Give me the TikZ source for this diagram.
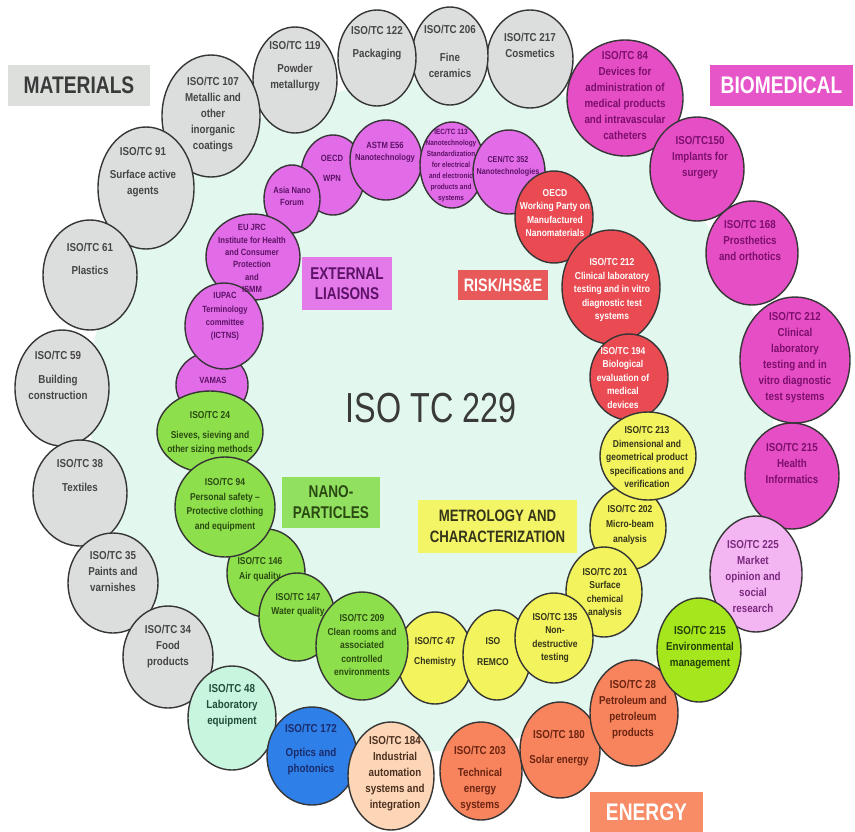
\documentclass[tikz,border=0pt]{standalone}
\usepackage{fontspec}
\usetikzlibrary{shapes.geometric}
\newfontfamily\nar[FakeStretch=0.85]{Liberation Sans}
\newfontfamily\tit[FakeStretch=0.77]{Liberation Sans}
\newfontfamily\boxf[FakeStretch=0.8]{Liberation Sans}
\definecolor{bgmint}{HTML}{E2F8EE}
\definecolor{olc}{HTML}{363636}
\definecolor{cgray}{HTML}{DCDEDD}
\definecolor{tgray}{HTML}{454545}
\definecolor{cmag}{HTML}{E64EC6}
\definecolor{tmag}{HTML}{7B0F6B}
\definecolor{cpink}{HTML}{E26CE8}
\definecolor{tpink}{HTML}{5C1266}
\definecolor{cpale}{HTML}{F4B6F2}
\definecolor{tpale}{HTML}{7A2A7E}
\definecolor{cred}{HTML}{EA4A52}
\definecolor{cyel}{HTML}{F3F35E}
\definecolor{tyel}{HTML}{34341A}
\definecolor{cgrn}{HTML}{8EDF4C}
\definecolor{tgrn}{HTML}{2A4A12}
\definecolor{clime}{HTML}{A6E61C}
\definecolor{tlime}{HTML}{24400A}
\definecolor{corg}{HTML}{F7845C}
\definecolor{torg}{HTML}{6B2412}
\definecolor{cmint}{HTML}{C8F5DD}
\definecolor{tmint}{HTML}{1F4D3A}
\definecolor{cblue}{HTML}{2F7FE8}
\definecolor{tblue}{HTML}{1A2C6A}
\definecolor{cpeach}{HTML}{FCD6B6}
\definecolor{tpeach}{HTML}{4C3020}
\definecolor{ctitle}{HTML}{3A3A3A}
\definecolor{bmat}{HTML}{DCDFDC}
\definecolor{bbio}{HTML}{E656C8}
\definecolor{bext}{HTML}{E47AEA}
\definecolor{brisk}{HTML}{E85A5A}
\definecolor{bnano}{HTML}{92E060}
\definecolor{bmet}{HTML}{F4F467}
\definecolor{bene}{HTML}{F78C66}
\newcommand\mkb[6]{\node[#1, minimum width=#5pt, minimum height=#6pt] (#2) at (#3,#4) {};}
\newcommand\mkt[5]{\node[#1] (#2) at (#3,#4) {#5};}
\begin{document}
\begin{tikzpicture}[x=1pt,y=-1pt,
  bub/.style={ellipse, draw=olc, line width=1.4pt, inner sep=0pt, outer sep=0pt},
  gry/.style={bub, fill=cgray},
  mag/.style={bub, fill=cmag},
  pnk/.style={bub, fill=cpink},
  pal/.style={bub, fill=cpale},
  red/.style={bub, fill=cred},
  yel/.style={bub, fill=cyel},
  grn/.style={bub, fill=cgrn},
  lim/.style={bub, fill=clime},
  org/.style={bub, fill=corg},
  mnt/.style={bub, fill=cmint},
  blu/.style={bub, fill=cblue},
  pch/.style={bub, fill=cpeach},
  otx/.style={align=center, inner sep=0pt, font=\nar\bfseries\fontsize{11.5}{16}\selectfont},
  itx/.style={align=center, inner sep=0pt, font=\nar\bfseries\fontsize{10}{13.5}\selectfont},
  ptx/.style={align=center, inner sep=0pt, text=tpink, font=\nar\bfseries\fontsize{9}{12.3}\selectfont},
  lbox/.style={inner sep=0pt, align=center, font=\boxf\bfseries},
]
\useasboundingbox (0,0) rectangle (855,831);
\fill[white] (0,0) rectangle (855,831);
% background
\fill[bgmint] plot[smooth cycle, tension=0.7] coordinates {
 (114,280) (166,204) (226,137) (304,103) (381,83) (449,81) (523,84) (611,120)
 (678,186) (729,264) (769,364) (767,472) (733,563) (680,634) (620,692) (551,727)
 (477,746) (394,751) (320,732) (246,697) (186,640) (135,571) (104,488) (88,390)};
% outer ring
\mkb{gry}{b217}{530}{59}{86}{98}
\mkb{gry}{b206}{450}{56}{76}{98}
\mkb{gry}{b122}{377}{58}{78}{96}
\mkb{gry}{b119}{295}{80}{84}{106}
\mkb{gry}{b107}{211}{116}{98}{122}
\mkb{gry}{b91}{146}{188}{96}{122}
\mkb{gry}{b61}{90}{275}{94}{110}
\mkb{gry}{b59}{62}{388}{94}{116}
\mkb{gry}{b38}{80}{493}{94}{106}
\mkb{gry}{b35}{113}{583}{90}{100}
\mkb{gry}{b34}{168}{657}{90}{102}
\mkb{mnt}{b48}{232}{718}{88}{104}
\mkb{blu}{b172}{312}{756}{90}{98}
\mkb{pch}{b184}{391}{776}{86}{108}
\mkb{org}{b203}{481}{771}{82}{98}
\mkb{org}{b180}{560}{750}{80}{96}
\mkb{org}{b28}{634}{713}{88}{106}
\mkb{mag}{b84}{625}{98}{116}{116}
\mkb{mag}{b150}{697}{169}{94}{104}
\mkb{mag}{b168}{752}{253}{92}{104}
\mkb{mag}{b212m}{795}{360}{110}{126}
\mkb{mag}{b215h}{792}{476}{94}{106}
\mkb{pal}{b225}{756}{574}{92}{116}
\mkb{lim}{b215e}{699}{650}{84}{104}
% inner ring
\mkb{pnk}{bWPN}{333}{175}{64}{80}
\mkb{pnk}{bASTM}{386}{160}{72}{80}
\mkb{pnk}{bIEC}{452}{165}{64}{86}
\mkb{pnk}{bCEN}{509}{172}{72}{84}
\mkb{red}{bOWP}{554}{217}{78}{92}
\mkb{red}{b212r}{611}{287}{98}{114}
\mkb{red}{b194}{629}{377}{78}{86}
\mkb{yel}{b202}{628}{528}{76}{84}
\mkb{yel}{b213}{648}{456}{96}{88}
\mkb{yel}{b201}{604}{592}{76}{90}
\mkb{yel}{b47}{435}{658}{76}{92}
\mkb{yel}{bREMCO}{497}{655}{68}{90}
\mkb{yel}{b135}{554}{638}{78}{90}
\mkb{grn}{b146}{266}{573}{78}{88}
\mkb{grn}{b147}{297}{617}{76}{88}
\mkb{grn}{b209}{362}{646}{92}{108}
\mkb{pnk}{bVAMAS}{212}{385}{72}{66}
\mkb{grn}{b24}{210}{432}{106}{82}
\mkb{grn}{b94}{225}{507}{100}{100}
\mkb{pnk}{bAsia}{292}{199}{56}{68}
\mkb{pnk}{bJRC}{253}{257}{94}{86}
\mkb{pnk}{bIUPAC}{224}{326}{78}{86}
% category boxes
\node[lbox, fill=bmat, text=ctitle, minimum width=142pt, minimum height=41pt, font=\boxf\bfseries\fontsize{24}{28}\selectfont] (materials) at (79,85.5) {MATERIALS};
\node[lbox, fill=bbio, text=white, minimum width=143pt, minimum height=41pt, font=\boxf\bfseries\fontsize{24}{28}\selectfont] (biomed) at (781.5,85.5) {BIOMEDICAL};
\node[lbox, fill=bext, text=tpink, minimum width=90pt, minimum height=53pt, font=\boxf\bfseries\fontsize{17}{20}\selectfont] (extern) at (347,283.5) {EXTERNAL\\LIAISONS};
\node[lbox, fill=brisk, text=white, minimum width=90pt, minimum height=30pt, font=\boxf\bfseries\fontsize{18}{20}\selectfont] (risk) at (503,285) {RISK/HS\&E};
\node[lbox, fill=bnano, text=tgrn, minimum width=98pt, minimum height=51pt, font=\boxf\bfseries\fontsize{17}{21}\selectfont] (nano) at (331,502.5) {NANO-\\PARTICLES};
\node[lbox, fill=bmet, text=tyel, minimum width=159pt, minimum height=53pt, font=\boxf\bfseries\fontsize{16.5}{21}\selectfont] (metro) at (497.5,526.5) {METROLOGY AND\\CHARACTERIZATION};
\node[lbox, fill=bene, text=white, minimum width=113pt, minimum height=40pt, font=\boxf\bfseries\fontsize{24}{28}\selectfont] (energy) at (646.5,812) {ENERGY};
\node[inner sep=0pt, text=ctitle, font=\tit\fontsize{42}{48}\selectfont] (title) at (431,408) {ISO TC 229};
% outer texts
\mkt{otx,text=tgray}{t61}{90}{258.5}{ISO/TC 61\\[7pt]Plastics}
\mkt{otx,text=tgray}{t91}{143}{172}{ISO/TC 91\\[7pt]Surface active\\agents}
\mkt{otx,text=tgray}{t107}{213}{115}{ISO/TC 107\\Metallic and\\other\\inorganic\\coatings}
\mkt{otx,text=tgray}{t119}{295}{66.5}{ISO/TC 119\\[7pt]Powder\\metallurgy}
\mkt{otx,text=tgray}{t122}{377}{43.5}{ISO/TC 122\\[7pt]Packaging}
\mkt{otx,text=tgray}{t206}{450}{51.5}{ISO/TC 206\\[12pt]Fine\\ceramics}
\mkt{otx,text=tgray}{t217}{530}{45}{ISO/TC 217\\Cosmetics}
\mkt{otx,text=tgray}{t59}{58}{375.5}{ISO/TC 59\\[8pt]Building\\construction}
\mkt{otx,text=tgray}{t38}{80}{475}{ISO/TC 38\\[8pt]Textiles}
\mkt{otx,text=tgray}{t35}{113}{571}{ISO/TC 35\\Paints and\\varnishes}
\mkt{otx,text=tgray}{t34}{168}{646.5}{ISO/TC 34\\Food\\products}
\mkt{otx,text=tmint}{t48}{232}{706}{ISO/TC 48\\Laboratory\\equipment}
\mkt{otx,text=tblue}{t172}{311}{749.5}{ISO/TC 172\\[8pt]Optics and\\photonics}
\mkt{otx,text=tpeach}{t184}{395}{774}{ISO/TC 184\\Industrial\\automation\\systems and\\integration}
\mkt{otx,text=torg}{t203}{480}{778.5}{ISO/TC 203\\[6pt]Technical\\energy\\systems}
\mkt{otx,text=torg}{t180}{559}{748.5}{ISO/TC 180\\[9pt]Solar energy}
\mkt{otx,text=torg}{t28}{633}{709.5}{ISO/TC 28\\Petroleum and\\petroleum\\products}
\mkt{otx,text=tlime}{t215e}{700}{648}{ISO/TC 215\\Environmental\\management}
\mkt{otx,text=tpale}{t225}{753}{576}{ISO/TC 225\\Market\\opinion and\\social\\research}
\mkt{otx,text=tmag}{t215h}{792}{463}{ISO/TC 215\\Health\\Informatics}
\mkt{otx,text=tmag}{t212m}{795}{357.5}{ISO/TC 212\\Clinical\\laboratory\\testing and in\\vitro diagnostic\\test systems}
\mkt{otx,text=tmag}{t168}{750}{240}{ISO/TC 168\\Prosthetics\\and orthotics}
\mkt{otx,text=tmag}{t150}{700}{157.5}{ISO/TC150\\Implants for\\surgery}
\mkt{otx,text=tmag}{t84}{625}{95}{ISO/TC 84\\Devices for\\administration of\\medical products\\and intravascular\\catheters}
% inner texts
\mkt{itx,text=white}{tOWP}{555}{213}{OECD\\Working Party on\\Manufactured\\Nanomaterials}
\mkt{itx,text=white}{t212r}{612}{290}{ISO/TC 212\\Clinical laboratory\\testing and in vitro\\diagnostic test\\systems}
\mkt{itx,text=white}{t194}{623}{377.5}{ISO/TC 194\\Biological\\evaluation of\\medical\\devices}
\mkt{itx,text=tyel}{t213}{647}{457}{ISO/TC 213\\Dimensional and\\geometrical product\\specifications and\\verification}
\mkt{itx,text=tyel}{t202}{630}{525}{ISO/TC 202\\[1.5pt]Micro-beam\\[1.5pt]analysis}
\mkt{itx,text=tyel}{t201}{605}{593}{ISO/TC 201\\Surface\\chemical\\analysis}
\mkt{itx,text=tyel}{t135}{555}{638}{ISO/TC 135\\Non-\\destructive\\testing}
\mkt{itx,text=tyel}{tREMCO}{493}{651.5}{ISO\\[7pt]REMCO}
\mkt{itx,text=tyel}{t47}{435}{652}{ISO/TC 47\\[7pt]Chemistry}
\mkt{itx,text=tgrn}{t209}{362}{645}{ISO/TC 209\\Clean rooms and\\associated\\controlled\\environments}
\mkt{itx,text=tgrn}{t147}{298}{605}{ISO/TC 147\\Water quality}
\mkt{itx,text=tgrn}{t146}{260}{569.5}{ISO/TC 146\\[1.5pt]Air quality}
\mkt{itx,text=tgrn}{t94}{225}{505}{ISO/TC 94\\[1pt]Personal safety –\\[1pt]Protective clothing\\[1pt]and equipment}
\mkt{itx,text=tgrn}{t24}{210}{432.5}{ISO/TC 24\\[7pt]Sieves, sieving and\\other sizing methods}
\mkt{ptx}{tVAMAS}{213}{380}{VAMAS}
\mkt{ptx}{tIUPAC}{225}{316.5}{IUPAC\\[1pt]Terminology\\[1pt]committee\\[1pt](ICTNS)}
\mkt{ptx}{tJRC}{252}{258.5}{EU JRC\\Institute for Health\\and Consumer\\Protection\\and\\ISMM}
\mkt{ptx}{tAsia}{292}{196}{Asia Nano\\Forum}
\mkt{ptx}{tWPN}{332}{168.5}{OECD\\[7pt]WPN}
\mkt{ptx}{tASTM}{385}{152}{ASTM E56\\Nanotechnology}
\mkt{ptx,font=\nar\bfseries\fontsize{7.6}{11}\selectfont}{tIEC}{451}{166}{IEC/TC 113\\Nanotechnology\\Standardization\\for electrical\\and electronic\\products and\\systems}
\mkt{ptx,font=\nar\bfseries\fontsize{8.5}{12}\selectfont}{tCEN}{508}{166}{CEN/TC 352\\Nanotechnologies}
\end{tikzpicture}
\end{document}
